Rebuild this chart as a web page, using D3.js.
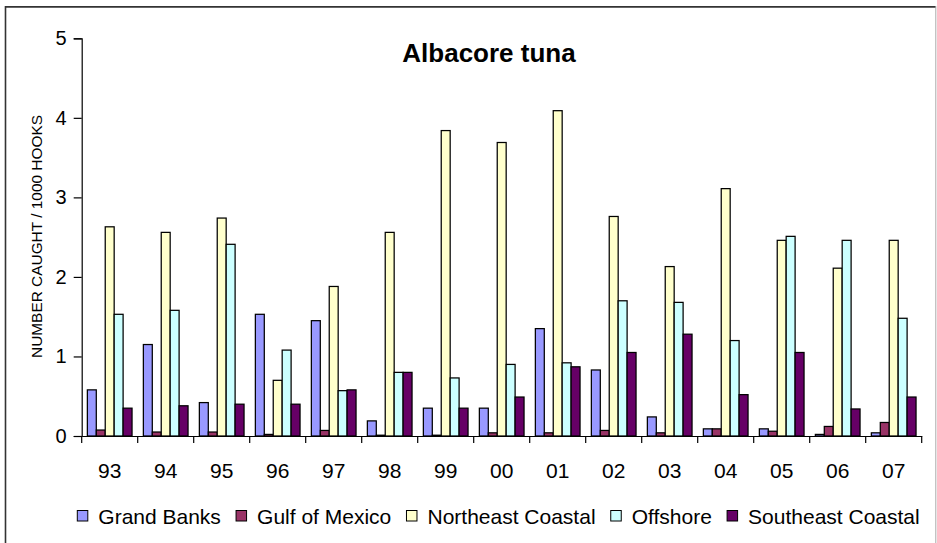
<!DOCTYPE html>
<html>
<head>
<meta charset="utf-8">
<script src="https://cdn.jsdelivr.net/npm/d3@7"></script>
<style>
  html, body { margin: 0; padding: 0; background: #fff; }
  svg { display: block; }
  text { font-family: "Liberation Sans", Arial, sans-serif; fill: #000; }
</style>
</head>
<body>
<svg id="chart" width="937" height="543"></svg>
<script>
// ---- data ----
const years = ["93","94","95","96","97","98","99","00","01","02","03","04","05","06","07"];
const seriesNames = ["Grand Banks","Gulf of Mexico","Northeast Coastal","Offshore","Southeast Coastal"];
const grandBanks       = [0.58,1.15,0.42,1.53,1.45,0.19,0.35,0.35,1.35,0.83,0.24,0.09,0.09,0.02,0.04];
const gulfOfMexico     = [0.075,0.05,0.05,0.02,0.07,0.01,0.01,0.04,0.04,0.07,0.04,0.09,0.06,0.12,0.17];
const northeastCoastal = [2.63,2.56,2.74,0.70,1.88,2.56,3.84,3.69,4.09,2.76,2.13,3.11,2.46,2.11,2.46];
const offshore         = [1.53,1.58,2.41,1.08,0.57,0.80,0.73,0.90,0.92,1.70,1.68,1.20,2.51,2.46,1.48];
const southeastCoastal = [0.35,0.38,0.40,0.40,0.58,0.80,0.35,0.49,0.87,1.05,1.28,0.52,1.05,0.34,0.49];
const yTicks = [0,1,2,3,4,5];
const titleText = "Albacore tuna";
const yTitle = "NUMBER CAUGHT / 1000 HOOKS";
const colors = ["#9999FF","#993366","#FFFFCC","#CCFFFF","#660066"];

const seriesValues = [grandBanks, gulfOfMexico, northeastCoastal, offshore, southeastCoastal];
const table = years.map((yr, i) => ({ year: yr, values: seriesValues.map(s => s[i]) }));

// ---- layout ----
const svg = d3.select("#chart");
const plotL = 81.7, plotR = 921.7, plotT = 38.3, plotB = 436;

// frame
svg.append("line").attr("x1",5.5).attr("x2",5.5).attr("y1",6).attr("y2",543)
  .attr("stroke","#333").attr("stroke-width",1.6);
svg.append("line").attr("x1",5).attr("x2",936).attr("y1",6.8).attr("y2",6.8)
  .attr("stroke","#333").attr("stroke-width",1.8);
svg.append("line").attr("x1",935.8).attr("x2",935.8).attr("y1",6).attr("y2",543)
  .attr("stroke","#aaa").attr("stroke-width",1);

const x = d3.scaleBand().domain(years).range([plotL, plotR]).padding(0);
const bw = x.bandwidth();
const xInner = d3.scaleBand().domain(seriesNames).range([bw*0.101, bw*0.899]).padding(0);
const y = d3.scaleLinear().domain([0,5]).range([plotB, plotT]);

// bars
const groups = svg.append("g").selectAll("g").data(table).join("g")
  .attr("transform", d => `translate(${x(d.year)},0)`);
groups.selectAll("rect").data(d => d.values.map((v,i) => ({name: seriesNames[i], v, i})))
  .join("rect")
  .attr("x", d => xInner(d.name))
  .attr("width", xInner.bandwidth())
  .attr("y", d => y(d.v))
  .attr("height", d => y(0) - y(d.v))
  .attr("fill", d => colors[d.i])
  .attr("stroke", "#000")
  .attr("stroke-width", 1.25);

// y axis
const yAxis = svg.append("g").attr("transform", `translate(${plotL},0)`)
  .call(d3.axisLeft(y).tickValues(yTicks).tickFormat(d3.format("d")).tickSize(8).tickPadding(7));
yAxis.selectAll("path, line").attr("stroke","#000").attr("stroke-width",1.2);
yAxis.selectAll("text").attr("font-size", 20).attr("font-family", '"Liberation Sans", Arial, sans-serif').attr("fill","#000");

// x axis (line + boundary ticks + labels)
const xAxis = svg.append("g").attr("transform", `translate(0,${plotB})`)
  .call(d3.axisBottom(x).tickSize(0).tickPadding(27));
xAxis.select("path").attr("stroke","#000").attr("stroke-width",1.2);
xAxis.selectAll("text").attr("font-size", 21).attr("font-family", '"Liberation Sans", Arial, sans-serif').attr("fill","#000");
const bounds = years.map(d => x(d)).concat([x.range()[1]]);
svg.append("g").selectAll("line").data(bounds).join("line")
  .attr("x1", d => d).attr("x2", d => d)
  .attr("y1", plotB).attr("y2", plotB + 7)
  .attr("stroke","#000").attr("stroke-width",1.2);

// title
svg.append("text").attr("x", 489).attr("y", 61.5).attr("text-anchor","middle")
  .attr("font-size", 26).attr("font-weight","bold").text(titleText);

// y title
svg.append("text")
  .attr("transform", "translate(41.5,236.5) rotate(-90)")
  .attr("text-anchor","middle")
  .attr("font-size", 14)
  .attr("textLength", 243).attr("lengthAdjust","spacingAndGlyphs")
  .text(yTitle);

// legend: items spread between x=77.3 and x=919.7
const legendL = 77.3, legendR = 919.7, sw = 10.5, textGap = 10.5;
const legend = svg.append("g");
const items = seriesNames.map((name, i) => {
  const g = legend.append("g");
  g.append("rect").attr("x", 0).attr("y", 510.5).attr("width", sw).attr("height", sw)
    .attr("fill", colors[i]).attr("stroke","#000").attr("stroke-width",1);
  const t = g.append("text").attr("x", sw + textGap).attr("y", 523.5).attr("font-size", 21).text(name);
  return { g, w: sw + textGap + t.node().getComputedTextLength() };
});
const sumW = d3.sum(items, d => d.w);
const gap = (legendR - legendL - sumW) / (items.length - 1);
let cx = legendL;
items.forEach(it => { it.g.attr("transform", `translate(${cx},0)`); cx += it.w + gap; });
</script>
</body>
</html>
